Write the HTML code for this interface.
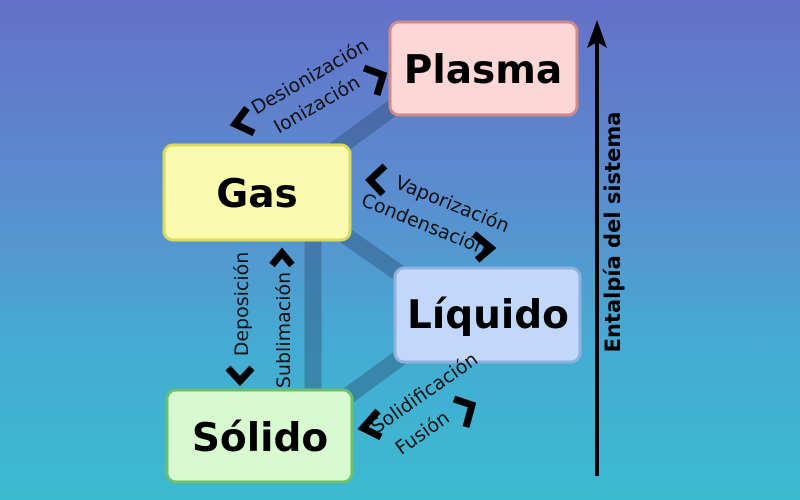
<!DOCTYPE html>
<html><head><meta charset="utf-8"><style>
html,body{margin:0;padding:0}
body{width:800px;height:500px;overflow:hidden;background:linear-gradient(180deg,#6470c8 0%,#5a8ed0 40%,#44acd2 70%,#3cbad0 100%)}
svg{display:block}
text{font-family:"DejaVu Sans","Liberation Sans",sans-serif}
</style></head><body>
<svg width="800" height="500" viewBox="0 0 800 500">
<g stroke="#2a4a70" stroke-opacity="0.4" stroke-width="17" fill="none">
<line x1="313" y1="238" x2="313" y2="392"/>
<line x1="335" y1="150" x2="410" y2="95"/>
<line x1="340" y1="232" x2="412" y2="282"/>
<line x1="345" y1="398" x2="408" y2="352"/>
</g>
<rect x="390" y="22" width="187" height="93" rx="9" fill="#fdd6d6" stroke="#d08a8a" stroke-width="3"/>
<rect x="164" y="145" width="186" height="95" rx="9" fill="#fbfbb0" stroke="#dada60" stroke-width="3"/>
<rect x="395" y="268" width="185" height="94" rx="9" fill="#c2d8fb" stroke="#90b0e0" stroke-width="3"/>
<rect x="167" y="390" width="185" height="92" rx="9" fill="#d8fad0" stroke="#6cc06c" stroke-width="3"/>
<g font-weight="bold" font-size="39" text-anchor="middle" fill="#000">
<text x="483" y="83">Plasma</text>
<text x="257" y="207">Gas</text>
<text x="488" y="328">Líquido</text>
<text x="260" y="451">Sólido</text>
</g>
<line x1="597" y1="476" x2="597" y2="40" stroke="#000" stroke-width="4"/>
<polygon points="597,20 587,48 597,42 607,48" fill="#000"/>
<text transform="translate(620,232) rotate(-90)" text-anchor="middle" font-weight="bold" font-size="21">Entalpía del sistema</text>
<g font-size="19" text-anchor="middle" fill="#111">
<text transform="translate(313,82) rotate(-30)">Desionización</text>
<text transform="translate(320,110) rotate(-30)">Ionización</text>
<text transform="translate(450,210) rotate(22)">Vaporización</text>
<text transform="translate(422,230) rotate(22)">Condensación</text>
<text transform="translate(248,304) rotate(-90)">Deposición</text>
<text transform="translate(290,330) rotate(-90)">Sublimación</text>
<text transform="translate(428,398) rotate(-35)">Solidificación</text>
<text transform="translate(426,438) rotate(-35)">Fusión</text>
</g>
<g fill="none" stroke="#000" stroke-width="7" stroke-linejoin="miter">
<polyline points="247,108 235,124 254,133"/>
<polyline points="364,68 383,75 377,95"/>
<polyline points="385,166 370,180 383,194"/>
<polyline points="474,234 491,248 477,260"/>
<polyline points="272,265 282,253 292,265"/>
<polyline points="228,368 240,381 252,368"/>
<polyline points="378,411 363,428 381,437"/>
<polyline points="454,399 472,405 466,427"/>
</g>
</svg>
</body></html>
